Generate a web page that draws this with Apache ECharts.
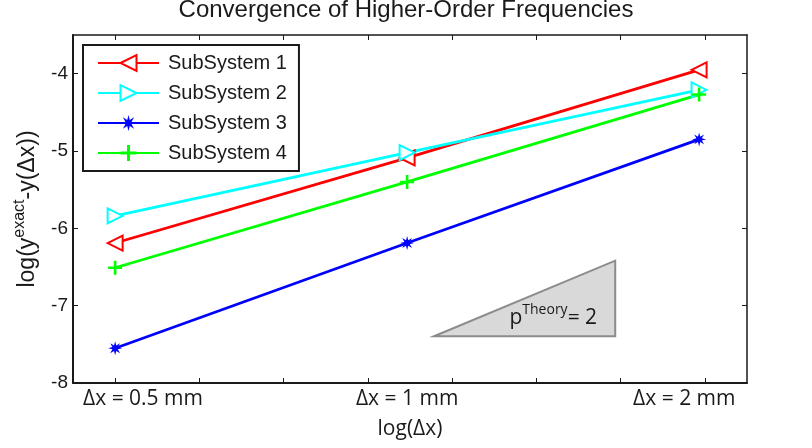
<!DOCTYPE html>
<html>
<head>
<meta charset="utf-8">
<script src="https://cdn.jsdelivr.net/npm/echarts@6/dist/echarts.min.js"></script>
<style>html,body{margin:0;padding:0;background:#fff;}#c{width:812px;height:448px;}</style>
</head>
<body>
<div id="c"></div>
<script>
// ---- data ----
var seriesNames = ['SubSystem 1', 'SubSystem 2', 'SubSystem 3', 'SubSystem 4'];
var logDx = [Math.log(0.5), Math.log(1), Math.log(2)];
var sub1 = [-6.19, -5.09, -3.95];
var sub2 = [-5.84, -5.02, -4.21];
var sub3 = [-7.55, -6.19, -4.85];
var sub4 = [-6.51, -5.40, -4.27];
var xTickValues = [-0.693, -0.493, -0.293, -0.093, 0.107, 0.307, 0.507, 0.707];
var xLabelValues = [-0.627, 0, 0.658];
var xLabelTexts = ['Δx = 0.5 mm', 'Δx = 1 mm', 'Δx = 2 mm'];
var yTickValues = [-8, -7, -6, -5, -4];
var slopeTriX = [0.064, 0.494];
var slopeTriY = [-7.395, -6.418];
var slopeTextAt = [0.347, -7.13];

function pairs(ys) { return ys.map(function (y, i) { return [logDx[i], y]; }); }

var starPath = 'path://M6,0 L2.3,0.95 L4.24,4.24 L0.95,2.3 L0,6 L-0.95,2.3 L-4.24,4.24 L-2.3,0.95 L-6,0 L-2.3,-0.95 L-4.24,-4.24 L-0.95,-2.3 L0,-6 L0.95,-2.3 L4.24,-4.24 L2.3,-0.95 Z';
var plusPath = 'path://M-1.3,-7H1.3V-1.3H7V1.3H1.3V7H-1.3V1.3H-7V-1.3H-1.3Z';

var chart = echarts.init(document.getElementById('c'));
var axisCol = '#1a1a1a';
var xMin = Math.log(0.5) - 0.1;
var option = {
  animation: false,
  title: {
    text: 'Convergence of Higher-Order Frequencies',
    left: 'center', top: -2, padding: 0,
    textStyle: { fontFamily: 'Liberation Sans', fontSize: 24, fontWeight: 'normal', color: '#1a1a1a' }
  },
  grid: { left: 73, right: 65, top: 35, bottom: 65 },
  legend: {
    data: seriesNames,
    orient: 'vertical',
    left: 83, top: 45,
    padding: [8, 12, 8, 14],
    itemWidth: 61, itemHeight: 20, itemGap: 10,
    backgroundColor: '#fff',
    borderColor: '#1a1a1a', borderWidth: 2, borderRadius: 0,
    textStyle: { fontFamily: 'Liberation Sans', fontSize: 20, color: '#1a1a1a', lineHeight: 20, padding: [0, 0, 0, 4] }
  },
  xAxis: [{
    type: 'value', min: xMin, max: xMin + 1.6,
    name: 'log(Δx)', nameLocation: 'middle', nameGap: 36,
    nameTextStyle: { fontFamily: 'Open Sans', fontSize: 21, color: '#1a1a1a' },
    axisLine: { onZero: false, lineStyle: { color: axisCol, width: 2 } },
    axisTick: { inside: true, length: 5, customValues: xTickValues, lineStyle: { color: axisCol, width: 1 } },
    axisLabel: {
      customValues: xLabelValues, margin: 6,
      fontFamily: 'Open Sans', fontSize: 21, color: '#1a1a1a',
      formatter: function (v) {
        var i = xLabelValues.indexOf(v);
        return i >= 0 ? xLabelTexts[i] : '';
      }
    },
    splitLine: { show: false }
  }, {
    type: 'value', position: 'top', min: xMin, max: xMin + 1.6,
    axisLine: { onZero: false, lineStyle: { color: axisCol, width: 1.5 } },
    axisTick: { inside: true, length: 5, customValues: xTickValues, lineStyle: { color: axisCol, width: 1 } },
    axisLabel: { show: false },
    splitLine: { show: false }
  }],
  yAxis: [{
    type: 'value', min: -8, max: -3.5,
    name: '{a|log(y}{b|exact}{a|-y(Δx))}', nameLocation: 'middle', nameGap: 34,
    nameTextStyle: {
      rich: {
        a: { fontFamily: 'Liberation Sans', fontSize: 23, color: '#1a1a1a', lineHeight: 27, verticalAlign: 'bottom' },
        b: { fontFamily: 'Liberation Sans', fontSize: 16, color: '#1a1a1a', lineHeight: 27, verticalAlign: 'top' }
      }
    },
    axisLine: { onZero: false, lineStyle: { color: axisCol, width: 2 } },
    axisTick: { inside: true, length: 5, customValues: yTickValues, lineStyle: { color: axisCol, width: 1 } },
    axisLabel: { customValues: yTickValues, margin: 5, fontFamily: 'Liberation Sans', fontSize: 19, color: '#1a1a1a' },
    splitLine: { show: false }
  }, {
    type: 'value', position: 'right', min: -8, max: -3.5,
    axisLine: { onZero: false, lineStyle: { color: axisCol, width: 1.5 } },
    axisTick: { inside: true, length: 5, customValues: yTickValues, lineStyle: { color: axisCol, width: 1 } },
    axisLabel: { show: false },
    splitLine: { show: false }
  }],
  series: [{
    type: 'custom', silent: true, z: 1,
    data: [[slopeTriX[0], slopeTriY[0], slopeTriX[1], slopeTriY[1]]],
    renderItem: function (params, api) {
      var p0 = api.coord([api.value(0), api.value(1)]);
      var p1 = api.coord([api.value(2), api.value(3)]);
      var p2 = api.coord([api.value(2), api.value(1)]);
      var t = api.coord(slopeTextAt);
      return {
        type: 'group',
        children: [{
          type: 'polygon',
          shape: { points: [p0, p1, p2] },
          style: { fill: '#d9d9d9', stroke: '#8c8c8c', lineWidth: 2 }
        }, {
          type: 'text',
          x: t[0], y: t[1],
          style: {
            text: '{p|p}{s|Theory}{p|= 2}',
            align: 'center', verticalAlign: 'middle',
            rich: {
              p: { fontFamily: 'Open Sans', fontSize: 21, fill: '#1a1a1a', lineHeight: 25, verticalAlign: 'bottom' },
              s: { fontFamily: 'Open Sans', fontSize: 14, fill: '#1a1a1a', lineHeight: 25, verticalAlign: 'top' }
            }
          }
        }]
      };
    }
  }, {
    name: seriesNames[0], type: 'line', data: pairs(sub1),
    symbol: 'emptyTriangle', symbolSize: 15, symbolRotate: 90,
    lineStyle: { color: '#ff0000', width: 2.8 },
    itemStyle: { color: '#ff0000', borderWidth: 2 }, z: 3
  }, {
    name: seriesNames[1], type: 'line', data: pairs(sub2),
    symbol: 'emptyTriangle', symbolSize: 15, symbolRotate: -90,
    lineStyle: { color: '#00ffff', width: 2.8 },
    itemStyle: { color: '#00ffff', borderWidth: 2 }, z: 3
  }, {
    name: seriesNames[2], type: 'line', data: pairs(sub3),
    symbol: starPath, symbolSize: 14,
    lineStyle: { color: '#0000ff', width: 2.8 },
    itemStyle: { color: '#0000ff' }, z: 3
  }, {
    name: seriesNames[3], type: 'line', data: pairs(sub4),
    symbol: plusPath, symbolSize: 14,
    lineStyle: { color: '#00ff00', width: 2.8 },
    itemStyle: { color: '#00ff00' }, z: 3
  }]
};
chart.setOption(option);
</script>
</body>
</html>
